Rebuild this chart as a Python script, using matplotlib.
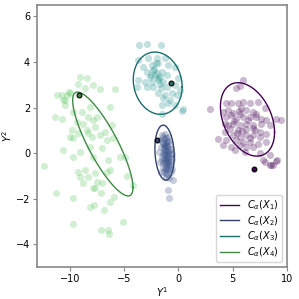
import numpy as np
import matplotlib.pyplot as plt
from matplotlib.lines import Line2D

# cluster 1 (purple)
x1 = [5.95, 5.64, 5.27, 2.89, 4.36, 4.88, 5.49, 5.95, 6.56, 7.32, 4.11, 4.57, 5.03, 5.58, 5.80,
      6.25, 6.87, 7.94, 4.42, 4.88, 5.34, 5.95, 6.56, 7.17, 7.63, 8.09, 9.01, 9.46, 4.27, 4.57,
      5.03, 5.64, 6.25, 6.87, 7.63, 8.39, 4.72, 5.49, 6.25, 7.02, 7.48, 8.09, 4.27, 5.03, 5.64,
      6.25, 6.87, 7.48, 3.65, 4.42, 5.34, 5.95, 6.56, 7.32, 8.09, 4.11, 4.88, 5.64, 6.25, 6.87,
      5.18, 6.10, 7.48, 8.39, 7.78, 8.39, 9.07, 8.70, 7.94, 8.55, 9.00,
      5.70, 6.40, 5.10, 6.90, 5.90, 6.60, 5.40, 7.10]
y1 = [3.21, 2.94, 2.84, 1.92, 2.18, 2.18, 2.21, 2.26, 2.18, 2.26, 1.82, 1.89, 1.74, 1.86, 1.96,
      1.89, 1.82, 1.96, 1.60, 1.67, 1.52, 1.60, 1.60, 1.60, 1.52, 1.45, 1.52, 1.45, 1.30, 1.23,
      1.30, 1.23, 1.30, 1.23, 1.30, 1.23, 1.08, 1.01, 1.04, 1.01, 0.94, 0.86, 0.94, 0.79, 0.72,
      0.79, 0.79, 0.72, 0.64, 0.57, 0.57, 0.50, 0.50, 0.42, 0.50, 0.35, 0.28, 0.35, 0.28, 0.25,
      0.13, 0.06, -0.01, -0.09, -0.31, -0.53, -0.31, -0.53, -0.38, -0.53, -0.34,
      1.70, 1.45, 1.40, 1.10, 0.95, 0.65, 0.90, 1.70]

# cluster 2 (blue)
x2 = [-1.54, -1.24, -0.93, -1.70, -1.39, -1.09, -0.78, -1.64, -1.33, -1.02, -0.72, -1.76, -1.45,
      -1.15, -0.84, -0.54, -1.54, -1.24, -0.93, -0.63, -1.70, -1.39, -1.09, -0.78, -1.45, -1.15,
      -0.84, -0.60, -1.33, -1.02, -0.72, -1.15, -0.84, -1.51, -1.21, -0.90, -1.27, -0.96, -0.66,
      -1.39, -1.58, -1.09, -1.24, -0.93, -0.47, -0.99, -0.84,
      -1.30, -1.10, -1.20, -1.00, -1.35, -1.05, -1.25, -0.95, -1.15, -1.40, -0.85, -1.20, -1.00,
      -1.30, -1.10, -0.90, -1.25, -1.05, -1.15, -0.95]
y2 = [0.79, 0.86, 0.72, 0.57, 0.50, 0.53, 0.42, 0.28, 0.20, 0.28, 0.20, 0.06, -0.02, 0.03, -0.06,
      -0.02, -0.16, -0.23, -0.21, -0.26, -0.38, -0.45, -0.41, -0.50, -0.60, -0.67, -0.65, -0.70,
      -0.82, -0.89, -0.85, -1.04, -1.08, -0.31, -0.09, 0.13, 0.35, -0.53, -0.38, 0.72, -0.82,
      -0.23, 0.09, -0.35, -1.16, -1.63, -1.95,
      0.60, 0.45, 0.30, 0.15, 0.00, -0.10, -0.30, -0.45, -0.55, 0.40, 0.05, -0.70, -0.75,
      0.25, 0.65, -0.15, -0.40, 0.35, -0.90, 0.55]

# cluster 3 (teal)
x3 = [-3.62, -2.92, -1.61, -3.69, -2.77, -2.00, -1.24, -3.23, -2.46, -1.85, -0.93, -0.32, -2.92,
      -2.31, -2.00, -1.54, -2.61, -2.15, -1.70, -1.09, -3.69, -3.07, -2.46, -1.85, -1.39, 0.00,
      -3.84, -2.92, -2.31, -1.61, -1.09, -0.32, 0.14, -1.85, -1.24, -0.63, -0.17, -1.39, -0.78,
      -1.54, -0.93, -0.32, 0.44, -1.54, 0.38,
      -2.20, -1.90, -2.50, -1.70, -2.10]
y3 = [4.75, 4.78, 4.75, 4.09, 4.16, 4.19, 4.16, 3.79, 3.87, 3.94, 3.87, 3.79, 3.58, 3.65, 3.50,
      3.58, 3.36, 3.43, 3.36, 3.43, 3.21, 3.14, 3.14, 3.21, 3.14, 3.28, 2.92, 2.92, 2.92, 2.84,
      2.92, 2.99, 2.77, 2.62, 2.55, 2.62, 2.55, 2.40, 2.33, 2.11, 2.18, 2.11, 1.93, 1.70, 1.86,
      3.70, 3.30, 3.45, 3.05, 3.95]

# cluster 4 (green)
x4 = [-9.19, -8.58, -7.81, -11.17, -10.57, -10.26, -9.95, -10.41, -11.33, -10.72, -9.65, -8.88,
      -8.12, -8.27, -7.51, -6.28, -5.83, -9.34, -8.73, -7.81, -7.66, -9.80, -9.19, -8.42, -8.27,
      -9.95, -9.65, -7.97, -7.20, -6.74, -6.13, -6.59, -5.98, -10.57, -9.04, -8.12, -7.05, -9.65,
      -7.81, -6.44, -5.37, -4.91, -12.40, -9.19, -8.58, -7.66, -6.28, -9.04, -8.27, -6.59, -7.51,
      -7.05, -8.73, -4.76, -4.14, -7.81, -7.66, -7.14, -6.28, -11.27, -9.65, -8.12, -7.72, -6.84,
      -9.71, -5.06, -7.14, -6.44, -6.35, -5.89, -9.04, -8.38, -7.20, -10.72, -10.02, -10.41]
y4 = [3.03, 2.84, 2.99, 2.55, 2.33, 2.55, 2.65, 2.11, 1.60, 1.52, 1.82, 1.82, 2.04, 1.60, 1.60,
      2.04, 2.80, 1.38, 1.30, 1.45, 1.16, 1.01, 0.87, 1.01, 0.87, 0.72, 0.65, 0.72, 0.79, 0.94,
      1.23, 0.57, 0.65, 0.13, 0.06, 0.28, 0.21, -0.16, -0.16, -0.31, -0.16, -0.16, -0.57, -0.82,
      -0.75, -0.89, -0.75, -1.04, -1.04, -0.82, -1.26, -1.33, -1.30, -1.01, -1.41, -1.51, -1.55,
      -1.74, -2.14, -1.77, -1.99, -2.36, -2.29, -2.50, -3.09, -3.02, -3.38, -3.38, -3.57, -1.92,
      3.33, 3.28, 2.80, 2.55, 2.69, 2.33]

xs = [x1, x2, x3, x4]
ys = [y1, y2, y3, y4]

# highlighted points
hx = [6.96, -1.94, -0.69, -9.13]
hy = [-0.70, 0.57, 3.06, 2.55]

# ellipses: center and covariance-like shape (data units)
centers = [(6.36, 1.48), (-1.27, 0.02), (-1.90, 3.07), (-6.95, 0.40)]
shapes = [[[6.2, -1.4], [-1.4, 2.6]],
          [[0.79, -0.15], [-0.15, 1.46]],
          [[5.06, -0.36], [-0.36, 1.87]],
          [[7.7, -5.3], [-5.3, 5.2]]]

labels = [r"$C_\alpha(X_1)$", r"$C_\alpha(X_2)$", r"$C_\alpha(X_3)$", r"$C_\alpha(X_4)$"]
pt_colors = ["#440154", "#3b528b", "#21918c", "#5ec962"]
line_colors = ["#440154", "#2f4270", "#1a6e6b", "#3d8a45"]

plt.rcParams["font.size"] = 7
fig = plt.figure(figsize=(2.99, 2.99), dpi=100)
ax = fig.add_axes([0.124, 0.107, 0.836, 0.876])

t = np.linspace(0, 2 * np.pi, 200)
for i in range(4):
    ax.scatter(xs[i], ys[i], s=26, color=pt_colors[i], alpha=0.28, linewidths=0)
    L = np.linalg.cholesky(np.array(shapes[i]))
    pts = L @ np.vstack([np.cos(t), np.sin(t)])
    ax.plot(centers[i][0] + pts[0], centers[i][1] + pts[1], color=line_colors[i], lw=1.0)
    ax.scatter(hx[i], hy[i], s=12, color=line_colors[i], edgecolors="black", linewidths=0.8, zorder=5)

ax.set_xlim(-13, 10)
ax.set_ylim(-5, 6.5)
ax.set_xticks([-10, -5, 0, 5, 10])
ax.set_yticks([-4, -2, 0, 2, 4, 6])
ax.set_xlabel(r"$Y^1$", labelpad=1)
ax.set_ylabel(r"$Y^2$", labelpad=1)
for sp in ax.spines.values():
    sp.set_color("#888888")
    sp.set_linewidth(1.2)
ax.tick_params(color="#888888", length=3, pad=2)

handles = [Line2D([], [], color=line_colors[i], lw=1.0) for i in range(4)]
ax.legend(handles, labels, loc="lower right", fontsize=7, handlelength=2.0,
          labelspacing=0.2, borderpad=0.35)

fig.savefig("out.png", dpi=100)
